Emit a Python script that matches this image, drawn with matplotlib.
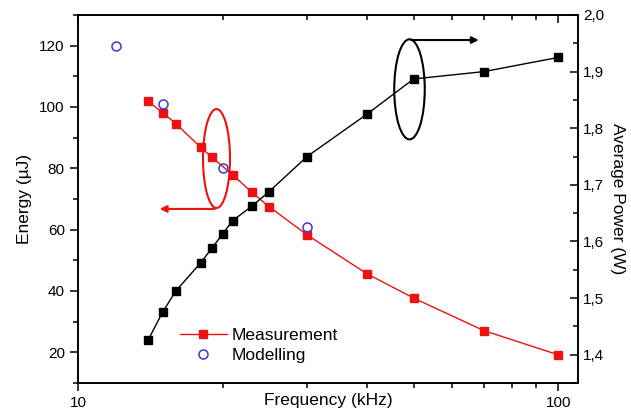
import matplotlib
matplotlib.use("Agg")
import matplotlib.pyplot as plt
from matplotlib.patches import Ellipse
from matplotlib.ticker import FixedLocator, NullFormatter, FuncFormatter, MultipleLocator

plt.rcParams['font.family'] = ['Liberation Sans', 'DejaVu Sans']

# data
freq_meas = [14, 15, 16, 18, 19, 21, 23, 25, 30, 40, 50, 70, 100]
energy_meas = [101.8, 98.2, 94.5, 86.9, 83.6, 77.9, 72.2, 67.5, 58.3, 45.6, 37.7, 27.1, 19.2]

freq_power = [14, 15, 16, 18, 19, 20, 21, 23, 25, 30, 40, 50, 70, 100]
avg_power = [1.426, 1.475, 1.513, 1.562, 1.588, 1.613, 1.637, 1.662, 1.688, 1.750,
             1.825, 1.887, 1.900, 1.925]

freq_model = [12, 15, 20, 30]
energy_model = [120, 101, 80, 60.9]

red = '#ee1111'
blue = '#3a3ad8'

fig = plt.figure(figsize=(6.31, 4.15), dpi=100)
ax = fig.add_axes([78/631, 32/415, 500/631, 368/415])
ax2 = ax.twinx()

# energy (left axis)
ax.plot(freq_meas, energy_meas, color=red, lw=1, marker='s', ms=6.3,
        mec=red, mfc=red, label='Measurement', zorder=3)
ax.plot(freq_model, energy_model, ls='none', marker='o', ms=6.5, mfc='none',
        mec=blue, mew=1.1, label='Modelling', zorder=4)

# power (right axis)
ax2.plot(freq_power, avg_power, color='black', lw=1, marker='s', ms=6.3,
         mec='black', mfc='black')

ax.set_xscale('log')
ax.set_xlim(10, 110)
ax.set_ylim(10, 130)
ax2.set_ylim(1.35, 2.0)

ax.xaxis.set_major_locator(FixedLocator([10, 100]))
ax.xaxis.set_minor_locator(FixedLocator([20, 30, 40, 50, 60, 70, 80, 90]))
ax.xaxis.set_minor_formatter(NullFormatter())
ax.xaxis.set_major_formatter(FuncFormatter(lambda v, p: '%d' % v))
ax.yaxis.set_major_locator(MultipleLocator(20))
ax.yaxis.set_minor_locator(MultipleLocator(10))
ax2.yaxis.set_major_locator(MultipleLocator(0.1))
ax2.yaxis.set_minor_locator(MultipleLocator(0.05))
ax2.yaxis.set_major_formatter(FuncFormatter(lambda v, p: ('%.1f' % v).replace('.', ',')))

ax.tick_params(axis='both', which='major', direction='out', length=6, width=1.1,
               labelsize=11, top=False, right=False)
ax.tick_params(axis='both', which='minor', direction='out', length=3.5, width=1.1,
               top=False, right=False)
ax2.tick_params(axis='y', which='major', direction='in', length=6, width=1.1, labelsize=11)
ax2.tick_params(axis='y', which='minor', direction='in', length=3.5, width=1.1)

# top ticks pointing inward
ax2.xaxis.set_visible(True)
ax2.tick_params(axis='x', which='both', bottom=False, top=True, labelbottom=False,
                labeltop=False, direction='in', width=1.1)
ax2.tick_params(axis='x', which='major', length=6)
ax2.tick_params(axis='x', which='minor', length=3.5)

for a in (ax, ax2):
    for s in a.spines.values():
        s.set_linewidth(1.2)

ax.set_xlabel('Frequency (kHz)', fontsize=12.5)
ax.xaxis.set_label_coords(0.5, -0.028)
ax.set_ylabel('Energy (\u00b5J)', fontsize=12.5, labelpad=5)
ax2.set_ylabel('Average Power (W)', fontsize=12.5, rotation=270, labelpad=15)

# ellipses and arrows marking which axis each curve uses
ax.add_patch(Ellipse((0.277, 0.610), 0.054, 0.269, transform=ax.transAxes,
                     fill=False, ec=red, lw=1.5, zorder=5))
ax.annotate('', xy=(0.158, 0.473), xytext=(0.279, 0.473), xycoords='axes fraction',
            arrowprops=dict(arrowstyle='-|>', color=red, lw=1.5, mutation_scale=10))
ax.add_patch(Ellipse((0.663, 0.798), 0.061, 0.272, transform=ax.transAxes,
                     fill=False, ec='black', lw=1.5, zorder=5))
ax.annotate('', xy=(0.807, 0.932), xytext=(0.661, 0.932), xycoords='axes fraction',
            arrowprops=dict(arrowstyle='-|>', color='black', lw=1.5, mutation_scale=10))

ax.legend(loc='upper left', bbox_to_anchor=(0.204, 0.15), frameon=False,
          fontsize=12.5, borderpad=0, borderaxespad=0, handlelength=2.7,
          handletextpad=0.3, labelspacing=0.3)

fig.savefig('out.png', dpi=100)
